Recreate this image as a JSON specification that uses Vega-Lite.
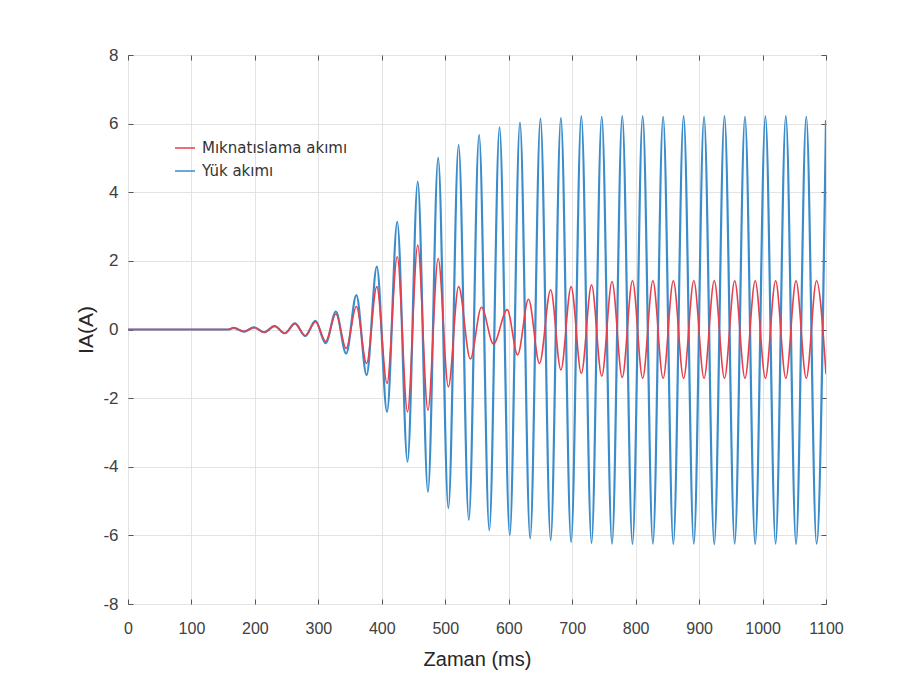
{
  "$schema": "https://vega.github.io/schema/vega-lite/v6.json",
  "autosize": {"type": "none"},
  "padding": {"left": 128, "top": 55, "right": 78, "bottom": 76},
  "width": 698,
  "height": 549,
  "background": "white",
  "config": {
    "view": {"stroke": "#555555", "strokeWidth": 1},
    "font": "Liberation Sans"
  },
  "datasets": {
    "blue": [
      {"t": 0, "v": 0}, {"t": 158, "v": 0},
      {"t": 166.5, "v": 0.05}, {"t": 182.6, "v": -0.06}, {"t": 198.7, "v": 0.06}, {"t": 214.8, "v": -0.08},
      {"t": 230.9, "v": 0.1}, {"t": 247.1, "v": -0.11}, {"t": 263.2, "v": 0.18}, {"t": 279.3, "v": -0.19},
      {"t": 295.4, "v": 0.25}, {"t": 311.5, "v": -0.4}, {"t": 327.6, "v": 0.52}, {"t": 343.8, "v": -0.7},
      {"t": 359.9, "v": 1.0}, {"t": 376.0, "v": -1.33}, {"t": 392.1, "v": 1.83}, {"t": 408.2, "v": -2.4},
      {"t": 424.3, "v": 3.14}, {"t": 440.5, "v": -3.85}, {"t": 456.6, "v": 4.31}, {"t": 472.7, "v": -4.73},
      {"t": 488.8, "v": 5.0}, {"t": 504.9, "v": -5.21}, {"t": 521.0, "v": 5.38}, {"t": 537.1, "v": -5.55},
      {"t": 553.3, "v": 5.67}, {"t": 569.4, "v": -5.85}, {"t": 585.5, "v": 5.89}, {"t": 601.6, "v": -5.99},
      {"t": 617.7, "v": 6.03}, {"t": 633.8, "v": -6.09}, {"t": 650.0, "v": 6.15}, {"t": 666.1, "v": -6.14},
      {"t": 682.2, "v": 6.16}, {"t": 698.3, "v": -6.19}, {"t": 714.4, "v": 6.22}, {"t": 730.5, "v": -6.22},
      {"t": 746.6, "v": 6.2}, {"t": 762.8, "v": -6.24}, {"t": 778.9, "v": 6.22}, {"t": 795.0, "v": -6.25},
      {"t": 811.1, "v": 6.22}, {"t": 827.2, "v": -6.24}, {"t": 843.3, "v": 6.2}, {"t": 859.4, "v": -6.25},
      {"t": 875.6, "v": 6.22}, {"t": 891.7, "v": -6.24}, {"t": 907.8, "v": 6.2}, {"t": 923.9, "v": -6.26},
      {"t": 940.0, "v": 6.22}, {"t": 956.1, "v": -6.24}, {"t": 972.3, "v": 6.2}, {"t": 988.4, "v": -6.25},
      {"t": 1004.5, "v": 6.22}, {"t": 1020.6, "v": -6.24}, {"t": 1036.7, "v": 6.22}, {"t": 1052.8, "v": -6.25},
      {"t": 1068.9, "v": 6.2}, {"t": 1085.1, "v": -6.24}, {"t": 1100, "v": 6.1}
    ],
    "red": [
      {"t": 0, "v": 0}, {"t": 158, "v": 0},
      {"t": 166.5, "v": 0.05}, {"t": 182.6, "v": -0.06}, {"t": 198.7, "v": 0.06}, {"t": 214.8, "v": -0.08},
      {"t": 230.9, "v": 0.1}, {"t": 247.1, "v": -0.11}, {"t": 263.2, "v": 0.17}, {"t": 279.3, "v": -0.18},
      {"t": 295.4, "v": 0.23}, {"t": 311.5, "v": -0.35}, {"t": 327.6, "v": 0.45}, {"t": 343.8, "v": -0.55},
      {"t": 359.9, "v": 0.67}, {"t": 376.0, "v": -0.99}, {"t": 392.1, "v": 1.25}, {"t": 408.2, "v": -1.57},
      {"t": 424.3, "v": 2.12}, {"t": 440.5, "v": -2.4}, {"t": 456.6, "v": 2.46}, {"t": 472.7, "v": -2.35},
      {"t": 488.8, "v": 2.07}, {"t": 504.9, "v": -1.67}, {"t": 521.0, "v": 1.25}, {"t": 539.5, "v": -0.86},
      {"t": 557.0, "v": 0.65}, {"t": 576.0, "v": -0.42}, {"t": 597.6, "v": 0.58}, {"t": 614.0, "v": -0.74},
      {"t": 631.2, "v": 0.88}, {"t": 648.5, "v": -0.99}, {"t": 666.1, "v": 1.16}, {"t": 682.2, "v": -1.18},
      {"t": 698.3, "v": 1.25}, {"t": 714.4, "v": -1.28}, {"t": 730.5, "v": 1.3}, {"t": 746.6, "v": -1.36},
      {"t": 762.8, "v": 1.4}, {"t": 778.9, "v": -1.4}, {"t": 795.0, "v": 1.42}, {"t": 811.1, "v": -1.42},
      {"t": 827.2, "v": 1.42}, {"t": 843.3, "v": -1.42}, {"t": 859.4, "v": 1.42}, {"t": 875.6, "v": -1.42},
      {"t": 891.7, "v": 1.42}, {"t": 907.8, "v": -1.42}, {"t": 923.9, "v": 1.42}, {"t": 940.0, "v": -1.42},
      {"t": 956.1, "v": 1.42}, {"t": 972.3, "v": -1.42}, {"t": 988.4, "v": 1.42}, {"t": 1004.5, "v": -1.42},
      {"t": 1020.6, "v": 1.42}, {"t": 1036.7, "v": -1.42}, {"t": 1052.8, "v": 1.42}, {"t": 1068.9, "v": -1.42},
      {"t": 1085.1, "v": 1.42}, {"t": 1100, "v": -1.3}
    ]
  },
  "resolve": {
    "scale": {"x": "shared", "y": "shared"},
    "axis": {"x": "independent", "y": "independent"}
  },
  "layer": [
    {
      "data": {"name": "blue"},
      "transform": [{"calculate": "'Yük akımı'", "as": "s"}],
      "mark": {"type": "line", "interpolate": "monotone", "strokeWidth": 2.2, "clip": true},
      "encoding": {
        "x": {
          "field": "t", "type": "quantitative",
          "scale": {"domain": [0, 1100], "nice": false, "zero": false},
          "axis": {
            "orient": "bottom", "values": [0,100,200,300,400,500,600,700,800,900,1000,1100],
            "labelExpr": "'' + datum.value", "labelOverlap": false, "labelBound": false, "labelFlush": false,
            "title": "Zaman (ms)", "titleFontSize": 20, "titleFontWeight": "normal", "titleColor": "#262626",
            "titlePadding": 13,
            "labelFontSize": 16, "labelColor": "#404040", "labelPadding": 21,
            "tickSize": -5, "tickColor": "#555555",
            "domain": false, "grid": true, "gridColor": "#e3e3e3", "gridWidth": 1
          }
        },
        "y": {
          "field": "v", "type": "quantitative",
          "scale": {"domain": [-8, 8], "nice": false},
          "axis": {
            "orient": "left", "values": [-8,-6,-4,-2,0,2,4,6,8],
            "labelExpr": "'' + datum.value", "labelOverlap": false,
            "title": "IA(A)", "titleFontSize": 21, "titleFontWeight": "normal", "titleColor": "#262626",
            "titlePadding": 6,
            "labelFontSize": 17, "labelColor": "#404040", "labelPadding": 15,
            "tickSize": -5, "tickColor": "#555555",
            "domain": false, "grid": true, "gridColor": "#e3e3e3", "gridWidth": 1
          }
        },
        "color": {
          "field": "s", "type": "nominal",
          "scale": {"domain": ["Mıknatıslama akımı", "Yük akımı"], "range": ["#e5404c", "#3a8ccb"]},
          "legend": {
            "orient": "none", "legendX": 46, "legendY": 82, "title": null,
            "symbolType": "stroke", "symbolSize": 400, "symbolStrokeWidth": 1.5,
            "labelFont": "DejaVu Sans", "labelFontSize": 15, "labelColor": "#333333",
            "labelOffset": 6, "rowPadding": 4, "fillColor": null, "strokeColor": null
          }
        }
      }
    },
    {
      "data": {"name": "red"},
      "transform": [{"calculate": "'Mıknatıslama akımı'", "as": "s"}],
      "mark": {"type": "line", "interpolate": "monotone", "strokeWidth": 1.6, "clip": true},
      "encoding": {
        "x": {
          "field": "t", "type": "quantitative",
          "axis": {
            "orient": "top", "values": [0,100,200,300,400,500,600,700,800,900,1000,1100],
            "title": null, "labels": false, "tickSize": -5, "tickColor": "#555555",
            "domain": false, "grid": false
          }
        },
        "y": {
          "field": "v", "type": "quantitative",
          "axis": {
            "orient": "right", "values": [-8,-6,-4,-2,0,2,4,6,8],
            "title": null, "labels": false, "tickSize": -5, "tickColor": "#555555",
            "domain": false, "grid": false
          }
        },
        "color": {"field": "s", "type": "nominal"}
      }
    }
  ]
}
